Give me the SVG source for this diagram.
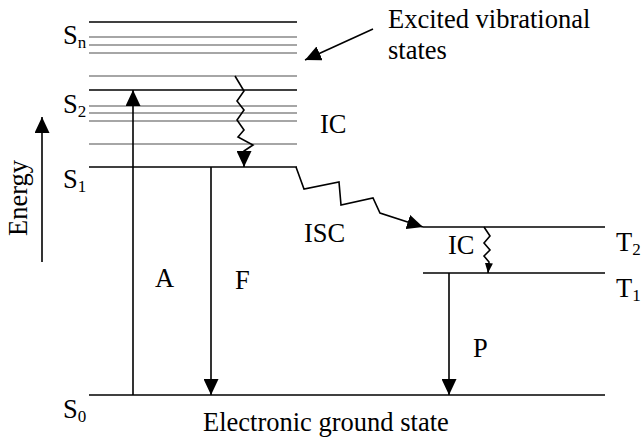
<svg xmlns="http://www.w3.org/2000/svg" width="643" height="440" viewBox="0 0 643 440">
<style>
text{font-family:"Liberation Serif","Times New Roman",serif;font-size:26.5px;fill:#000}
.sub{font-size:17px}
.lv{stroke:#000;stroke-width:1.6;fill:none}
.vb{stroke:#888;stroke-width:1.6;fill:none}
.ar{stroke:#000;stroke-width:1.6;fill:none}
</style>
<defs>
<marker id="ah" viewBox="0 0 16 15" refX="16" refY="7.5" markerWidth="16" markerHeight="15" orient="auto" markerUnits="userSpaceOnUse"><path d="M0,0 L16,7.5 L0,15 z" fill="#000"/></marker>
<marker id="ahs" viewBox="0 0 10 8" refX="10" refY="4" markerWidth="10" markerHeight="8" orient="auto" markerUnits="userSpaceOnUse"><path d="M0,0 L10,4 L0,8 z" fill="#000"/></marker>
</defs>
<g font-family="Liberation Serif, Times New Roman, serif">
<g id="levels">
<g id="Sn"><line class="lv" x1="89" y1="22" x2="297" y2="22"/><line class="vb" x1="89" y1="37" x2="297" y2="37"/><line class="vb" x1="89" y1="45" x2="297" y2="45"/><line class="vb" x1="89" y1="53" x2="297" y2="53"/><text x="63" y="44">S<tspan class="sub" dy="4">n</tspan></text></g>
<g id="S2"><line class="vb" x1="89" y1="76" x2="297" y2="76"/><line class="lv" x1="89" y1="90" x2="297" y2="90"/><line class="vb" x1="89" y1="106" x2="297" y2="106"/><line class="vb" x1="89" y1="113" x2="297" y2="113"/><line class="vb" x1="89" y1="121" x2="297" y2="121"/><line class="vb" x1="89" y1="144" x2="297" y2="144"/><text x="63" y="113">S<tspan class="sub" dy="4">2</tspan></text></g>
<g id="S1"><line class="lv" x1="89" y1="167" x2="297" y2="167"/><text x="63" y="188">S<tspan class="sub" dy="4">1</tspan></text></g>
<g id="T2"><line class="lv" x1="423" y1="227" x2="605" y2="227"/><text x="616" y="251">T<tspan class="sub" dy="4">2</tspan></text></g>
<g id="T1"><line class="lv" x1="423" y1="273" x2="605" y2="273"/><text x="616" y="297">T<tspan class="sub" dy="4">1</tspan></text></g>
<g id="S0"><line class="lv" x1="89" y1="395" x2="605" y2="395"/><text x="63" y="418">S<tspan class="sub" dy="4">0</tspan></text><text x="203" y="431">Electronic ground state</text></g>
</g>
<g id="energy"><line class="ar" x1="42" y1="262" x2="42" y2="117" marker-end="url(#ah)"/><text transform="translate(27,198) rotate(-90)" text-anchor="middle">Energy</text></g>
<g id="note"><text x="388" y="28">Excited vibrational</text><text x="388" y="59">states</text></g>
<g id="connectors">
<line class="ar" x1="133" y1="395" x2="133" y2="90" marker-end="url(#ah)"/>
<line class="ar" x1="211" y1="167" x2="211" y2="395" marker-end="url(#ah)"/>
<line class="ar" x1="449" y1="273" x2="449" y2="395" marker-end="url(#ah)"/>
<line class="ar" x1="373" y1="29" x2="305" y2="60" marker-end="url(#ah)"/>
<polyline class="ar" points="235,76 244,91 237,101 244,110 237,120 244,130 238,137 253,145 244,151 244,167" marker-end="url(#ah)"/>
<polyline class="ar" points="296,167 304,189 339,182 341,205 373,198 380,213 423,227" marker-end="url(#ah)"/>
<polyline class="ar" points="484,227 490,236 484,243 490,250 484,256 489,262 488,273" marker-end="url(#ahs)"/>
</g>
<g id="labels">
<text x="320" y="133">IC</text>
<text x="304" y="242">ISC</text>
<text x="448" y="254">IC</text>
<text x="155" y="287">A</text>
<text x="235" y="289">F</text>
<text x="473" y="357">P</text>
</g>
</g>
</svg>
